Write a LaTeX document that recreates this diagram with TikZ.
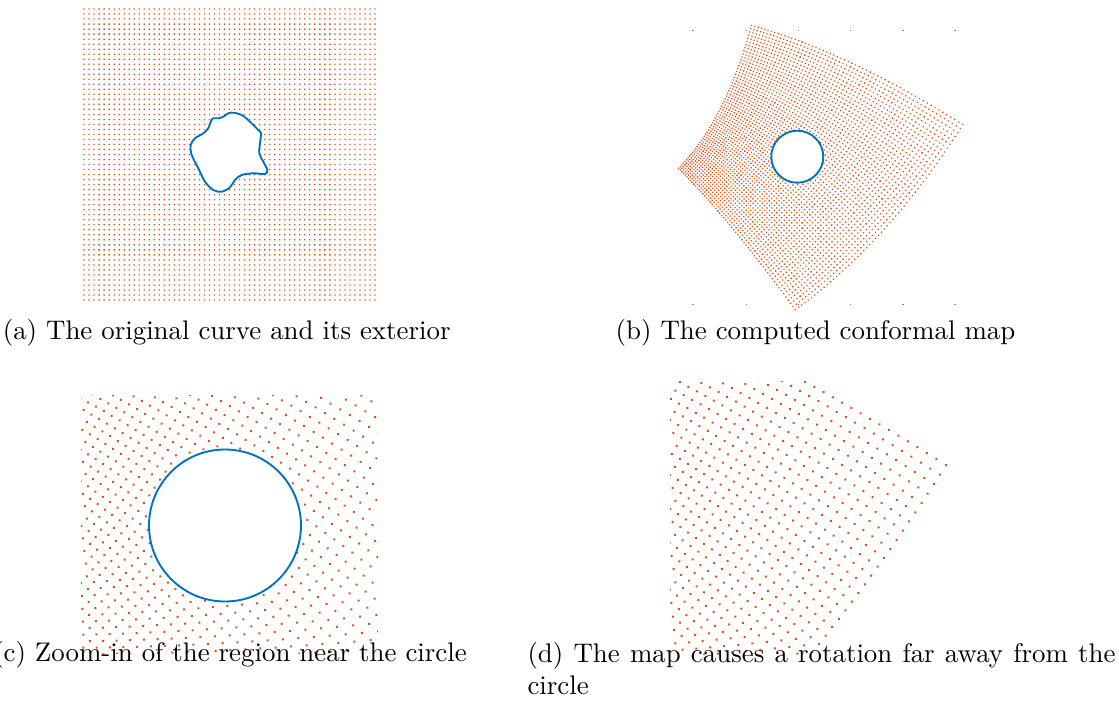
\documentclass[tikz,border=0pt]{standalone}
\usepackage{tikz}
\definecolor{dotred}{RGB}{217,83,25}
\definecolor{curveblue}{RGB}{0,114,189}

\begin{document}
\begin{tikzpicture}[x=0.372pt,y=-0.372pt,
  dot/.style={fill=dotred},
  curve/.style={draw=curveblue,line width=0.7pt,fill=white},
  axistick/.style={fill=black!45},
  caption/.style={inner sep=0pt}]
  \useasboundingbox (0,0) rectangle (1119,725);

  % (a) the square grid and the curve
  \foreach \i in {0,...,58}
    \fill[dot] \foreach \j in {0,...,58} {({83.4+5.017*\i},{8.4+5.017*\j}) rectangle ++(1.3,1.3)};
  \draw[curve] plot[smooth cycle,tension=0.55] coordinates {
    (233.3,112.7) (241.7,115) (250,121.7) (258.3,130) (261,133.3)
    (260,143.3) (259.3,153.3) (263.3,161.7) (267.3,170) (265,174)
    (253.3,173.3) (241.7,175) (235,180) (230,187.3) (221.7,191.7)
    (213.3,190) (205,181.7) (198.3,168.3) (191.7,155) (190.7,145)
    (195,138.3) (203.3,133.3) (208.3,128.3) (210.7,121.7) (213.3,118.3)
    (218.3,118.3) (223.3,116.7) (228.3,113.3)};

  % (b) the mapped grid
  \foreach \i [evaluate=\i as \X using (\i-29)/29] in {0,...,58}
    \fill[dot] \foreach \j [evaluate=\j as \Y using (\j-29)/29] in {0,...,58}
      {({796.4+82*\X-60.1*\Y+5.3*(\X*\X-\Y*\Y)-23.6*\X*\Y},
       {156.4+60.1*\X+82*\Y+11.8*(\X*\X-\Y*\Y)+10.6*\X*\Y}) rectangle ++(1.3,1.3)};
  \foreach \tx in {692.3,745.7,797.7,850,902.3,954.3} {
    \fill[axistick] (\tx,29.5) rectangle ++(1.2,1.2);
    \fill[axistick] (\tx,303.8) rectangle ++(1.2,1.2);
  }
  \draw[curve] (797.3,156.7) circle[radius=26];

  % (c) zoom near the circle
  \begin{scope}
    \clip (81,395) rectangle (378,653);
    \foreach \i [evaluate=\i as \X using (\i-29)/29] in {6,...,52}
      \fill[dot] \foreach \j [evaluate=\j as \Y using (\j-29)/29] in {6,...,52}
        {({224+2.92*(82*\X-60.1*\Y+5.3*(\X*\X-\Y*\Y)-23.6*\X*\Y)},
         {524.5+2.92*(60.1*\X+82*\Y+11.8*(\X*\X-\Y*\Y)+10.6*\X*\Y)}) rectangle ++(2,2)};
  \end{scope}
  \draw[curve] (225,525.5) circle[radius=76];

  % (d) far away from the circle
  \begin{scope}
    \clip (670,381) rectangle (1000,654);
    \foreach \i [evaluate=\i as \X using (\i-29)/29] in {20,...,58}
      \fill[dot] \foreach \j [evaluate=\j as \Y using (\j-29)/29] in {0,...,44}
        {({945+2.4*(82*\X-60.1*\Y+5.3*(\X*\X-\Y*\Y)-23.6*\X*\Y-165.7)},
         {464+2.4*(60.1*\X+82*\Y+11.8*(\X*\X-\Y*\Y)+10.6*\X*\Y+32.5)}) rectangle ++(2,2)};
  \end{scope}

  % captions
  \node[caption] (capa) at (226.7,333) {(a) The original curve and its exterior};
  \node[caption] (capb) at (815.5,333) {(b) The computed conformal map};
  \node[caption] (capc) at (230,655) {(c) Zoom-in of the region near the circle};
  \node[caption,anchor=north west,text width=218.7pt,align=justify] (capd)
    at (527,641.5) {(d) The map causes a rotation far away from the circle};
\end{tikzpicture}
\end{document}
